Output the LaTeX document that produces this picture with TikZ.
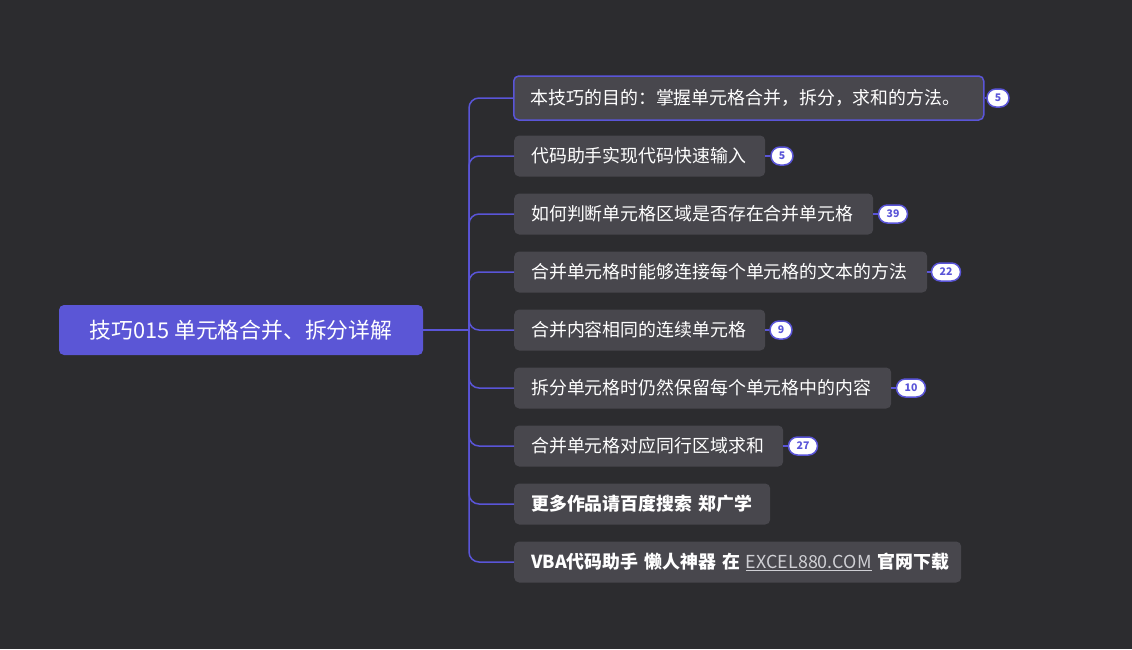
\documentclass[tikz,border=0pt]{standalone}
\usepackage{fontspec}
\setmainfont{Noto Sans CJK SC}
\definecolor{bg}{HTML}{2C2C2F}
\definecolor{nodefill}{HTML}{48474D}
\definecolor{purp}{HTML}{5A55D8}
\definecolor{rootfill}{HTML}{5B56D6}
\definecolor{linkgray}{HTML}{CFCFD4}
\tikzset{
  conn/.style={draw=purp, line width=1.5pt},
  branch/.style={fill=nodefill, rounded corners=5pt, text=white, anchor=west,
    font=\fontsize{17.9}{21}\selectfont, inner xsep=17pt, inner ysep=0pt,
    minimum height=41pt, align=left},
  rootbox/.style={fill=rootfill, rounded corners=5pt, text=white,
    font=\fontsize{21.8}{25}\selectfont, minimum width=364pt, minimum height=50pt},
  badge/.style={fill=white, draw=purp, line width=1.5pt, rounded corners=9pt,
    text=purp, font=\bfseries\fontsize{10.5}{12}\selectfont, inner sep=0pt,
    minimum height=18pt, minimum width=22pt},
  badgetwo/.style={badge, minimum width=29pt}
}
\begin{document}
\begin{tikzpicture}[x=1pt,y=-1pt]
\fill[bg] (0,0) rectangle (1132,649);
\useasboundingbox (0,0) rectangle (1132,649);

\node[rootbox] (root) at (241,330) {技巧015 单元格合并、拆分详解};

\node[branch, text width=436pt, minimum height=44pt, draw=purp, line width=1.5pt] (b1) at (513,98) {本技巧的目的：掌握单元格合并，拆分，求和的方法。};
\node[branch, text width=217pt] (b2) at (514,156) {代码助手实现代码快速输入};
\node[branch, text width=325pt] (b3) at (514,214) {如何判断单元格区域是否存在合并单元格};
\node[branch, text width=379pt] (b4) at (514,272) {合并单元格时能够连接每个单元格的文本的方法};
\node[branch, text width=217pt] (b5) at (514,330) {合并内容相同的连续单元格};
\node[branch, text width=343pt] (b6) at (514,388) {拆分单元格时仍然保留每个单元格中的内容};
\node[branch, text width=235pt] (b7) at (514,446) {合并单元格对应同行区域求和};
\node[branch, text width=222pt] (b8) at (514,504) {\bfseries 更多作品请百度搜索 郑广学};
\node[branch, text width=413pt] (b9) at (514,562) {\mbox{\bfseries VBA代码助手 懒人神器 在 {\mdseries\color{linkgray}\underline{EXCEL880.COM}} 官网下载}};

\draw[conn] (root.east) -- (469,330) coordinate (j);
\foreach \b in {b1,b2,b3,b4,b5,b6,b7,b8,b9}{
  \draw[conn, rounded corners=10pt] (j) |- (\b.west);
}

\node[badge] (c1) at (998,98) {5};
\node[badge] (c2) at (782,156) {5};
\node[badgetwo] (c3) at (893,214) {39};
\node[badgetwo] (c4) at (946,272) {22};
\node[badge] (c5) at (781,330) {9};
\node[badgetwo] (c6) at (911,388) {10};
\node[badgetwo] (c7) at (803,446) {27};
\foreach \i in {1,...,7}{
  \draw[conn] (b\i.east) -- (c\i.west);
}
\end{tikzpicture}
\end{document}
